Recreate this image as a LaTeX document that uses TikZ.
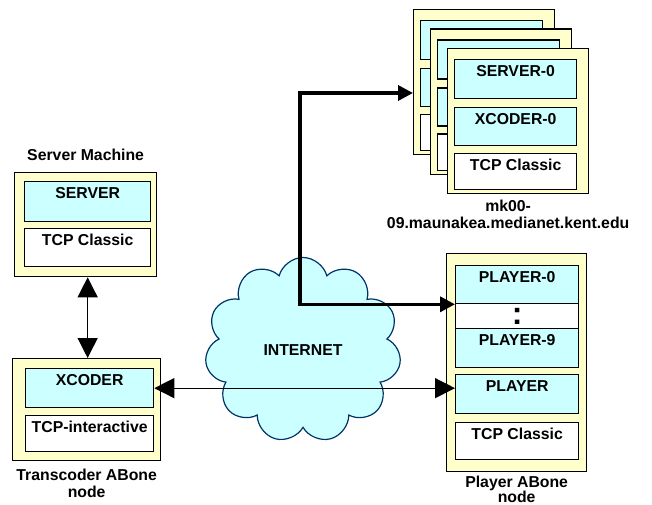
\documentclass[tikz,border=0pt]{standalone}
\usepackage{fontspec}
\setmainfont{Liberation Sans}
\usepackage{xcolor}
\usepackage{tikz}
\usetikzlibrary{shapes.symbols, arrows.meta, calc, positioning}
\definecolor{abone}{RGB}{255,255,204}
\definecolor{module}{RGB}{204,255,255}
\definecolor{cloudline}{RGB}{0,51,102}

\begin{document}
\begin{tikzpicture}[x=1pt, y=-1pt, font=\fontsize{15.8}{17}\selectfont\bfseries,
  machine/.style={draw, fill=abone, line width=1.3pt, anchor=north west, inner sep=0pt},
  layer/.style={draw, line width=1.3pt, anchor=north west, inner sep=0pt},
  txt/.style={label={[anchor=north, inner sep=0pt, yshift=-6pt]north:#1}},
  caption/.style={inner sep=0pt, align=center},
  link/.style={line width=1.3pt, {Triangle[length=20pt,width=20pt]}-{Triangle[length=20pt,width=20pt]}},
  bus/.style={line width=3.5pt, line join=miter, {Triangle[length=15pt,width=15pt]}-{Triangle[length=15pt,width=15pt]}}]

\useasboundingbox (0,0) rectangle (652,505);

\node[cloud, draw=cloudline, fill=module, line width=1.2pt, cloud puffs=11, aspect=1.06,
  minimum width=196pt, minimum height=185pt, inner sep=0pt] (net) at (303,350) {INTERNET};

% server machine
\node[machine, minimum width=142pt, minimum height=104pt] (srv) at (14,172) {};
\node[layer, fill=module, minimum width=126pt, minimum height=40pt, txt=SERVER] (srvapp) at (24,181) {};
\node[layer, fill=white, minimum width=126pt, minimum height=38pt, txt=TCP Classic] (srvtcp) at (24,228) {};
\node[caption, above=11pt of srv] {Server Machine};

% transcoder
\node[machine, minimum width=148pt, minimum height=102pt] (trc) at (12,358) {};
\node[layer, fill=module, minimum width=128pt, minimum height=39pt, txt=XCODER] (xc) at (25,368) {};
\node[layer, fill=white, minimum width=128pt, minimum height=36pt, txt=TCP-interactive] (trctcp) at (25,415) {};
\node[caption, below=8pt of trc] {Transcoder ABone\\node};

% mk00-09 stack
\foreach \i/\dx/\dy in {0/0/0, 1/17/19.5} {
  \node[machine, minimum width=141pt, minimum height=145pt] (mk\i) at (413+\dx,9+\dy) {};
  \node[layer, fill=module, minimum width=122pt, minimum height=39pt] at (420+\dx,20+\dy) {};
  \node[layer, fill=module, minimum width=122pt, minimum height=38pt] at (420+\dx,68+\dy) {};
  \node[layer, fill=white, minimum width=122pt, minimum height=36pt] at (420+\dx,114+\dy) {};
}
\node[machine, minimum width=141pt, minimum height=145pt] (mk2) at (447,48) {};
\node[layer, fill=module, minimum width=122pt, minimum height=39pt, txt=SERVER-0] (mksrv) at (454,59) {};
\node[layer, fill=module, minimum width=122pt, minimum height=38pt, txt=XCODER-0] (mkxc) at (454,107) {};
\node[layer, fill=white, minimum width=122pt, minimum height=36pt, txt=TCP Classic] (mktcp) at (454,153) {};
\node[caption, below=6pt of mk2, xshift=-10pt] {mk00-\\09.maunakea.medianet.kent.edu};

% player
\node[machine, minimum width=140pt, minimum height=218pt] (pl) at (446,253) {};
\node[layer, fill=module, minimum width=123pt, minimum height=38pt, txt=PLAYER-0] (p0) at (455,265) {};
\node[layer, fill=white, minimum width=123pt, minimum height=25pt] (pdots) at (455,303) {};
\node[font=\fontsize{32}{32}\selectfont\bfseries, inner sep=0pt] at (pdots) {:};
\node[layer, fill=module, minimum width=123pt, minimum height=39pt, txt=PLAYER-9] (p9) at (455,328) {};
\node[layer, fill=module, minimum width=123pt, minimum height=39pt, txt=PLAYER] (pp) at (455,374) {};
\node[layer, fill=white, minimum width=123pt, minimum height=37pt, txt=TCP Classic] (pltcp) at (455,422) {};
\node[caption, below=4pt of pl, font=\fontsize{15.8}{15}\selectfont\bfseries] {Player ABone\\node};

\draw[link] ([xshift=2pt]srv.south) -- ([xshift=1pt]trc.north);
\draw[link] (xc.east) -- (xc.east -| pp.west);

\coordinate (hub) at (300,0);
\draw[bus] ([yshift=-84pt]mk0.north west) -| (hub |- p0.south west) -- (p0.south west);
\end{tikzpicture}
\end{document}
